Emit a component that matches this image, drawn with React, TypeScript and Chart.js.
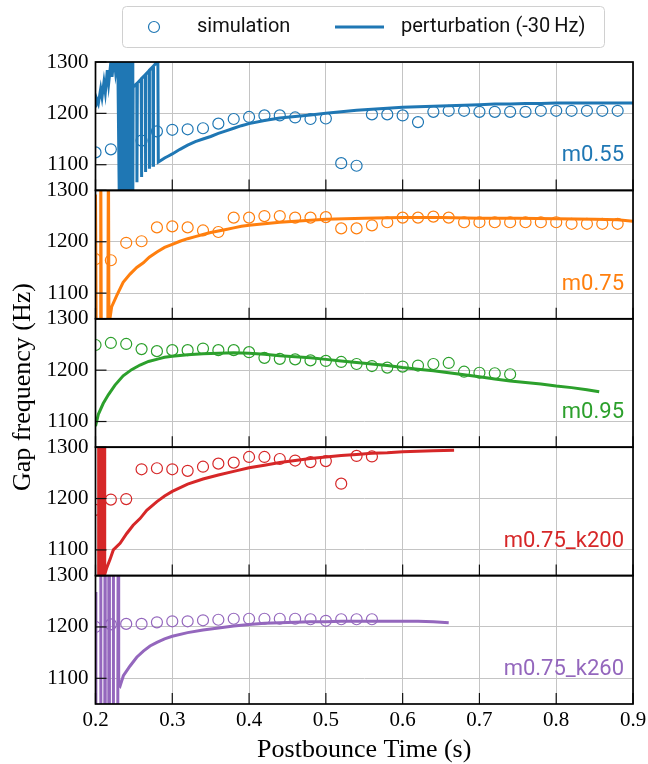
import React, { useEffect, useRef } from "react";
import { Chart, registerables } from "chart.js";

Chart.register(...registerables);

// ---------- tick labels ----------
const X_TICKS = [0.2, 0.3, 0.4, 0.5, 0.6, 0.7, 0.8, 0.9];
const Y_TICKS = [1100, 1200, 1300];

// ---------- panel names / colours ----------
const PANEL_LABELS = ["m0.55", "m0.75", "m0.95", "m0.75_k200", "m0.75_k260"];
const PANEL_COLORS = ["#1f77b4", "#ff7f0e", "#2ca02c", "#d62728", "#9467bd"];

// ---------- simulation (circles) ----------
const SIM_T_M055 = [0.2, 0.22, 0.26, 0.28, 0.3, 0.32, 0.34, 0.36, 0.38, 0.4, 0.42, 0.44, 0.46, 0.48, 0.5, 0.52, 0.54, 0.56, 0.58, 0.6, 0.62, 0.64, 0.66, 0.68, 0.7, 0.72, 0.74, 0.76, 0.78, 0.8, 0.82, 0.84, 0.86, 0.88];
const SIM_F_M055 = [1124, 1130, 1147, 1165, 1168, 1169, 1171, 1180, 1189, 1193, 1196, 1196, 1192, 1189, 1190, 1103, 1098, 1198, 1198, 1196, 1183, 1203, 1205, 1205, 1203, 1203, 1203, 1203, 1205, 1205, 1205, 1205, 1205, 1205];

const SIM_T_M075 = [0.2, 0.22, 0.24, 0.26, 0.28, 0.3, 0.32, 0.34, 0.36, 0.38, 0.4, 0.42, 0.44, 0.46, 0.48, 0.5, 0.52, 0.54, 0.56, 0.58, 0.6, 0.62, 0.64, 0.66, 0.68, 0.7, 0.72, 0.74, 0.76, 0.78, 0.8, 0.82, 0.84, 0.86, 0.88];
const SIM_F_M075 = [1166, 1164, 1198, 1201, 1228, 1230, 1228, 1222, 1219, 1247, 1247, 1250, 1250, 1247, 1247, 1248, 1226, 1226, 1232, 1238, 1247, 1247, 1249, 1247, 1238, 1238, 1238, 1238, 1238, 1238, 1238, 1235, 1235, 1235, 1235];

const SIM_T_M095 = [0.2, 0.22, 0.24, 0.26, 0.28, 0.3, 0.32, 0.34, 0.36, 0.38, 0.4, 0.42, 0.44, 0.46, 0.48, 0.5, 0.52, 0.54, 0.56, 0.58, 0.6, 0.62, 0.64, 0.66, 0.68, 0.7, 0.72, 0.74];
const SIM_F_M095 = [1249, 1253, 1251, 1241, 1237, 1239, 1239, 1242, 1239, 1239, 1235, 1224, 1222, 1221, 1219, 1218, 1216, 1212, 1208, 1205, 1207, 1209, 1212, 1214, 1197, 1195, 1194, 1192];

const SIM_T_K200 = [0.2, 0.22, 0.24, 0.26, 0.28, 0.3, 0.32, 0.34, 0.36, 0.38, 0.4, 0.42, 0.44, 0.46, 0.48, 0.5, 0.52, 0.54, 0.56];
const SIM_F_K200 = [1178, 1198, 1199, 1257, 1259, 1257, 1254, 1262, 1268, 1270, 1281, 1281, 1277, 1274, 1271, 1273, 1229, 1283, 1282];

const SIM_T_K260 = [0.2, 0.22, 0.24, 0.26, 0.28, 0.3, 0.32, 0.34, 0.36, 0.38, 0.4, 0.42, 0.44, 0.46, 0.48, 0.5, 0.52, 0.54, 0.56];
const SIM_F_K260 = [1200, 1205, 1206, 1206, 1209, 1211, 1211, 1213, 1214, 1216, 1216, 1216, 1216, 1216, 1215, 1212, 1215, 1215, 1215];

// ---------- perturbation (-30 Hz) lines : [time, frequency] ----------
const PERT_M055: [number, number][] = [
  [0.2, 1212], [0.2015, 1228], [0.2037, 1219], [0.2068, 1248], [0.2085, 1232], [0.211, 1261], [0.2128, 1241],
  [0.2154, 1284], [0.2171, 1258], [0.2198, 1297], [0.2215, 1271], [0.2241, 1310], [0.2262, 1280], [0.229, 1310],
  [0.231, 1030], [0.2318, 1330], [0.2326, 1030], [0.2334, 1330], [0.2342, 1030], [0.235, 1330], [0.2358, 1030],
  [0.2366, 1330], [0.2374, 1030], [0.2382, 1330], [0.239, 1030], [0.2398, 1330], [0.2406, 1030], [0.2414, 1330],
  [0.2422, 1030], [0.243, 1330], [0.2438, 1030], [0.2446, 1330], [0.2454, 1030], [0.2462, 1330], [0.247, 1030],
  [0.2478, 1330], [0.2486, 1030], [0.249, 1251],
  [0.2538, 1258], [0.254, 1066], [0.2545, 1259], [0.2595, 1267], [0.2598, 1076], [0.2603, 1268],
  [0.2648, 1275], [0.265, 1086], [0.2655, 1276], [0.2698, 1283], [0.27, 1092], [0.2705, 1284],
  [0.2748, 1291], [0.275, 1099], [0.2755, 1292], [0.279, 1298], [0.2812, 1310], [0.2818, 1105],
  [0.285, 1108], [0.29, 1113], [0.295, 1117], [0.3, 1121], [0.31, 1130], [0.32, 1138], [0.33, 1145], [0.34, 1150],
  [0.35, 1155], [0.36, 1161], [0.37, 1166], [0.38, 1171], [0.39, 1176], [0.4, 1180], [0.42, 1186], [0.44, 1191],
  [0.46, 1194], [0.48, 1197], [0.5, 1200], [0.52, 1203], [0.54, 1206], [0.56, 1208], [0.58, 1210], [0.6, 1212],
  [0.62, 1213], [0.64, 1214], [0.66, 1215], [0.68, 1216], [0.7, 1217], [0.72, 1218], [0.74, 1218], [0.76, 1219],
  [0.78, 1219], [0.8, 1220], [0.82, 1220], [0.84, 1220], [0.86, 1220], [0.88, 1220], [0.9, 1220],
];

const PERT_M075: [number, number][] = [
  [0.2, 1292], [0.201, 1000], [0.206, 1000], [0.2068, 1400], [0.2076, 1000], [0.216, 1000], [0.2168, 1400],
  [0.2176, 1000], [0.219, 1052], [0.221, 1073], [0.2276, 1095], [0.236, 1121], [0.245, 1137], [0.2537, 1150],
  [0.2623, 1159], [0.27, 1170], [0.28, 1180], [0.29, 1189], [0.3, 1195], [0.31, 1201], [0.32, 1206], [0.33, 1210],
  [0.34, 1214], [0.35, 1218], [0.36, 1221], [0.37, 1224], [0.38, 1227], [0.39, 1230], [0.4, 1232], [0.42, 1235],
  [0.44, 1238], [0.46, 1240], [0.48, 1242], [0.5, 1244], [0.55, 1246], [0.6, 1247], [0.65, 1247], [0.7, 1246],
  [0.75, 1246], [0.8, 1245], [0.85, 1244], [0.88, 1243], [0.9, 1240],
];

const PERT_M095: [number, number][] = [
  [0.2, 1091], [0.2037, 1114], [0.21, 1135], [0.2167, 1152], [0.2254, 1171], [0.236, 1189], [0.247, 1201],
  [0.258, 1210], [0.269, 1217], [0.282, 1222], [0.29, 1225], [0.3, 1227], [0.32, 1230], [0.34, 1232], [0.36, 1233],
  [0.38, 1234], [0.4, 1233], [0.42, 1231], [0.44, 1228], [0.46, 1226], [0.48, 1224], [0.5, 1221], [0.52, 1218],
  [0.54, 1215], [0.56, 1212], [0.58, 1209], [0.6, 1205], [0.62, 1202], [0.64, 1199], [0.66, 1195], [0.68, 1191],
  [0.7, 1187], [0.72, 1183], [0.74, 1179], [0.76, 1176], [0.78, 1173], [0.8, 1169], [0.82, 1166], [0.84, 1162],
  [0.856, 1158],
];

const PERT_K200: [number, number][] = [
  [0.204, 1000], [0.2041, 1400], [0.2048, 1000], [0.2056, 1400], [0.2064, 1000], [0.2072, 1400], [0.208, 1000],
  [0.2088, 1400], [0.2096, 1000], [0.2104, 1400], [0.2112, 1000], [0.2118, 1400], [0.2122, 1052], [0.2146, 1065],
  [0.219, 1082], [0.2232, 1100], [0.232, 1113], [0.2407, 1132], [0.249, 1148], [0.258, 1161], [0.2667, 1177],
  [0.28, 1194], [0.29, 1205], [0.3, 1214], [0.32, 1228], [0.34, 1238], [0.36, 1246], [0.38, 1253], [0.4, 1260],
  [0.42, 1265], [0.44, 1270], [0.46, 1274], [0.48, 1278], [0.5, 1281], [0.52, 1284], [0.54, 1286], [0.56, 1288],
  [0.58, 1289], [0.6, 1291], [0.62, 1292], [0.64, 1293], [0.667, 1294],
];

const PERT_K260: [number, number][] = [
  [0.2, 1268], [0.2005, 1000], [0.2065, 1000], [0.2068, 1400], [0.2071, 1000], [0.2121, 1000], [0.2124, 1400],
  [0.2127, 1000], [0.217, 1000], [0.2173, 1400], [0.2176, 1000], [0.218, 1400], [0.2183, 1000], [0.2229, 1000],
  [0.2232, 1400], [0.2235, 1000], [0.229, 1000], [0.2295, 1400], [0.2302, 1088], [0.232, 1085], [0.2363, 1105],
  [0.245, 1124], [0.2537, 1141], [0.2623, 1153], [0.271, 1163], [0.28, 1170], [0.29, 1177], [0.3, 1182],
  [0.32, 1189], [0.34, 1194], [0.36, 1198], [0.38, 1202], [0.4, 1205], [0.42, 1207], [0.44, 1208], [0.46, 1209],
  [0.48, 1210], [0.5, 1210], [0.52, 1211], [0.54, 1211], [0.56, 1211], [0.58, 1211], [0.6, 1211], [0.62, 1211],
  [0.64, 1210], [0.66, 1208],
];

const SIM_TIMES = [SIM_T_M055, SIM_T_M075, SIM_T_M095, SIM_T_K200, SIM_T_K260];
const SIM_FREQS = [SIM_F_M055, SIM_F_M075, SIM_F_M095, SIM_F_K200, SIM_F_K260];
const PERT_LINES = [PERT_M055, PERT_M075, PERT_M095, PERT_K200, PERT_K260];

const LEGEND_SIM = "simulation";
const LEGEND_PERT = "perturbation (-30\u2009Hz)";
const X_TITLE = "Postbounce Time (s)";
const Y_TITLE = "Gap frequency (Hz)";

const Y_IDS = ["y1", "y2", "y3", "y4", "y5"];
const SERIF = '"Liberation Serif", "Times New Roman", serif';
const SANS = 'Roboto, "Noto Sans", sans-serif';
const TICK_LEN = 11;

const panelClipPlugin = {
  id: "panelClip",
  beforeDatasetDraw(chart: any, args: any) {
    const meta = args.meta;
    const ys = chart.scales[meta.yAxisID];
    const ca = chart.chartArea;
    const ctx = chart.ctx;
    ctx.save();
    ctx.beginPath();
    ctx.rect(ca.left, ys.top, ca.right - ca.left, ys.bottom - ys.top);
    ctx.clip();
  },
  afterDatasetDraw(chart: any) {
    chart.ctx.restore();
  },
};

const framePlugin = {
  id: "frame",
  afterDatasetsDraw(chart: any) {
    const { ctx, chartArea: ca, scales } = chart;
    const xs = scales.x;
    ctx.save();
    ctx.strokeStyle = "#111";
    ctx.lineWidth = 1.2;
    Y_IDS.forEach((id) => {
      const ys = scales[id];
      X_TICKS.forEach((v) => {
        const px = xs.getPixelForValue(v);
        ctx.beginPath();
        ctx.moveTo(px, ys.bottom);
        ctx.lineTo(px, ys.bottom - TICK_LEN);
        ctx.stroke();
      });
      Y_TICKS.forEach((v) => {
        const py = ys.getPixelForValue(v);
        ctx.beginPath();
        ctx.moveTo(ca.left, py);
        ctx.lineTo(ca.left + TICK_LEN, py);
        ctx.stroke();
      });
    });
    ctx.lineWidth = 1.7;
    ctx.strokeStyle = "#000";
    Y_IDS.forEach((id) => {
      const ys = scales[id];
      ctx.strokeRect(ca.left, ys.top, ca.right - ca.left, ys.bottom - ys.top);
    });
    // panel labels
    ctx.font = `22px ${SANS}`;
    ctx.textAlign = "right";
    ctx.textBaseline = "alphabetic";
    Y_IDS.forEach((id, i) => {
      const ys = scales[id];
      ctx.fillStyle = PANEL_COLORS[i];
      ctx.fillText(PANEL_LABELS[i], ca.right - 9, ys.bottom - 29);
    });
    // y title
    ctx.fillStyle = "#000";
    ctx.font = `26px ${SERIF}`;
    ctx.textAlign = "center";
    ctx.textBaseline = "middle";
    ctx.translate(23, (ca.top + ca.bottom) / 2 + 4);
    ctx.rotate(-Math.PI / 2);
    ctx.fillText(Y_TITLE, 0, 0);
    ctx.restore();
  },
};

const legendPlugin = {
  id: "customLegend",
  afterDraw(chart: any) {
    const ctx = chart.ctx;
    ctx.save();
    const x0 = 122.5, y0 = 6.5, w = 482, h = 41, r = 4;
    ctx.beginPath();
    ctx.moveTo(x0 + r, y0);
    ctx.lineTo(x0 + w - r, y0);
    ctx.arcTo(x0 + w, y0, x0 + w, y0 + r, r);
    ctx.lineTo(x0 + w, y0 + h - r);
    ctx.arcTo(x0 + w, y0 + h, x0 + w - r, y0 + h, r);
    ctx.lineTo(x0 + r, y0 + h);
    ctx.arcTo(x0, y0 + h, x0, y0 + h - r, r);
    ctx.lineTo(x0, y0 + r);
    ctx.arcTo(x0, y0, x0 + r, y0, r);
    ctx.closePath();
    ctx.fillStyle = "rgba(255,255,255,0.85)";
    ctx.fill();
    ctx.strokeStyle = "#d0d0d0";
    ctx.lineWidth = 1;
    ctx.stroke();
    const cy = 27;
    ctx.strokeStyle = PANEL_COLORS[0];
    ctx.lineWidth = 1.2;
    ctx.beginPath();
    ctx.arc(154, cy, 5.5, 0, Math.PI * 2);
    ctx.stroke();
    ctx.lineWidth = 3;
    ctx.beginPath();
    ctx.moveTo(335, cy);
    ctx.lineTo(384, cy);
    ctx.stroke();
    ctx.fillStyle = "#111";
    ctx.font = `20px ${SANS}`;
    ctx.textAlign = "left";
    ctx.textBaseline = "middle";
    ctx.fillText(LEGEND_SIM, 197, cy);
    ctx.fillText(LEGEND_PERT, 401, cy);
    ctx.restore();
  },
};

export default function App() {
  const ref = useRef<HTMLCanvasElement | null>(null);

  useEffect(() => {
    if (!ref.current) return;
    const datasets: any[] = [];
    Y_IDS.forEach((id, i) => {
      datasets.push({
        label: `sim-${PANEL_LABELS[i]}`,
        data: SIM_TIMES[i].map((t, k) => ({ x: t, y: SIM_FREQS[i][k] })),
        yAxisID: id,
        showLine: false,
        pointRadius: 5.5,
        pointBorderWidth: 1.2,
        pointBorderColor: PANEL_COLORS[i],
        pointBackgroundColor: "rgba(0,0,0,0)",
        borderColor: PANEL_COLORS[i],
        backgroundColor: "rgba(0,0,0,0)",
        order: 2,
      });
      datasets.push({
        label: `pert-${PANEL_LABELS[i]}`,
        data: PERT_LINES[i].map(([t, f]) => ({ x: t, y: f })),
        yAxisID: id,
        showLine: true,
        pointRadius: 0,
        borderWidth: 3,
        borderColor: PANEL_COLORS[i],
        backgroundColor: PANEL_COLORS[i],
        tension: 0,
        order: 1,
      });
    });

    const scales: any = {
      x: {
        type: "linear",
        position: "bottom",
        min: 0.2,
        max: 0.9,
        afterBuildTicks: (s: any) => {
          s.ticks = X_TICKS.map((v) => ({ value: v }));
        },
        afterFit: (s: any) => {
          s.height = 60;
          s.paddingLeft = 0;
          s.paddingRight = 0;
        },
        ticks: {
          callback: (v: any) => Number(v).toFixed(1),
          font: { family: SERIF, size: 21 },
          color: "#000",
          padding: 4,
          maxRotation: 0,
          autoSkip: false,
        },
        grid: { color: "#c4c4c4", lineWidth: 1, drawTicks: false },
        border: { display: false },
        title: {
          display: true,
          text: X_TITLE,
          font: { family: SERIF, size: 26, lineHeight: 1.1 },
          color: "#000",
          padding: { top: 0, bottom: 0 },
        },
      },
    };
    Y_IDS.forEach((id, i) => {
      scales[id] = {
        type: "linear",
        position: "left",
        stack: "panels",
        stackWeight: 1,
        weight: 5 - i,
        min: 1050,
        max: 1300,
        afterBuildTicks: (s: any) => {
          s.ticks = Y_TICKS.map((v) => ({ value: v }));
        },
        afterFit: (s: any) => {
          s.width = 95.5;
          s.paddingTop = 0;
          s.paddingBottom = 0;
        },
        ticks: {
          callback: (v: any) => String(v),
          font: { family: SERIF, size: 21 },
          color: "#000",
          padding: 7,
          autoSkip: false,
        },
        grid: { color: "#c4c4c4", lineWidth: 1, drawTicks: false },
        border: { display: false },
      };
    });

    const chart = new Chart(ref.current, {
      type: "scatter",
      data: { datasets },
      options: {
        animation: false,
        responsive: false,
        maintainAspectRatio: false,
        layout: { padding: { left: 0, right: 15, top: 62, bottom: 0 } },
        plugins: { legend: { display: false }, tooltip: { enabled: false } },
        scales,
      },
      plugins: [panelClipPlugin, framePlugin, legendPlugin],
    } as any);
    return () => chart.destroy();
  }, []);

  return (
    <div style={{ position: "absolute", left: 0, top: 0, width: 648, height: 764, background: "#fff" }}>
      <canvas ref={ref} width={648} height={764} style={{ display: "block" }} />
    </div>
  );
}
